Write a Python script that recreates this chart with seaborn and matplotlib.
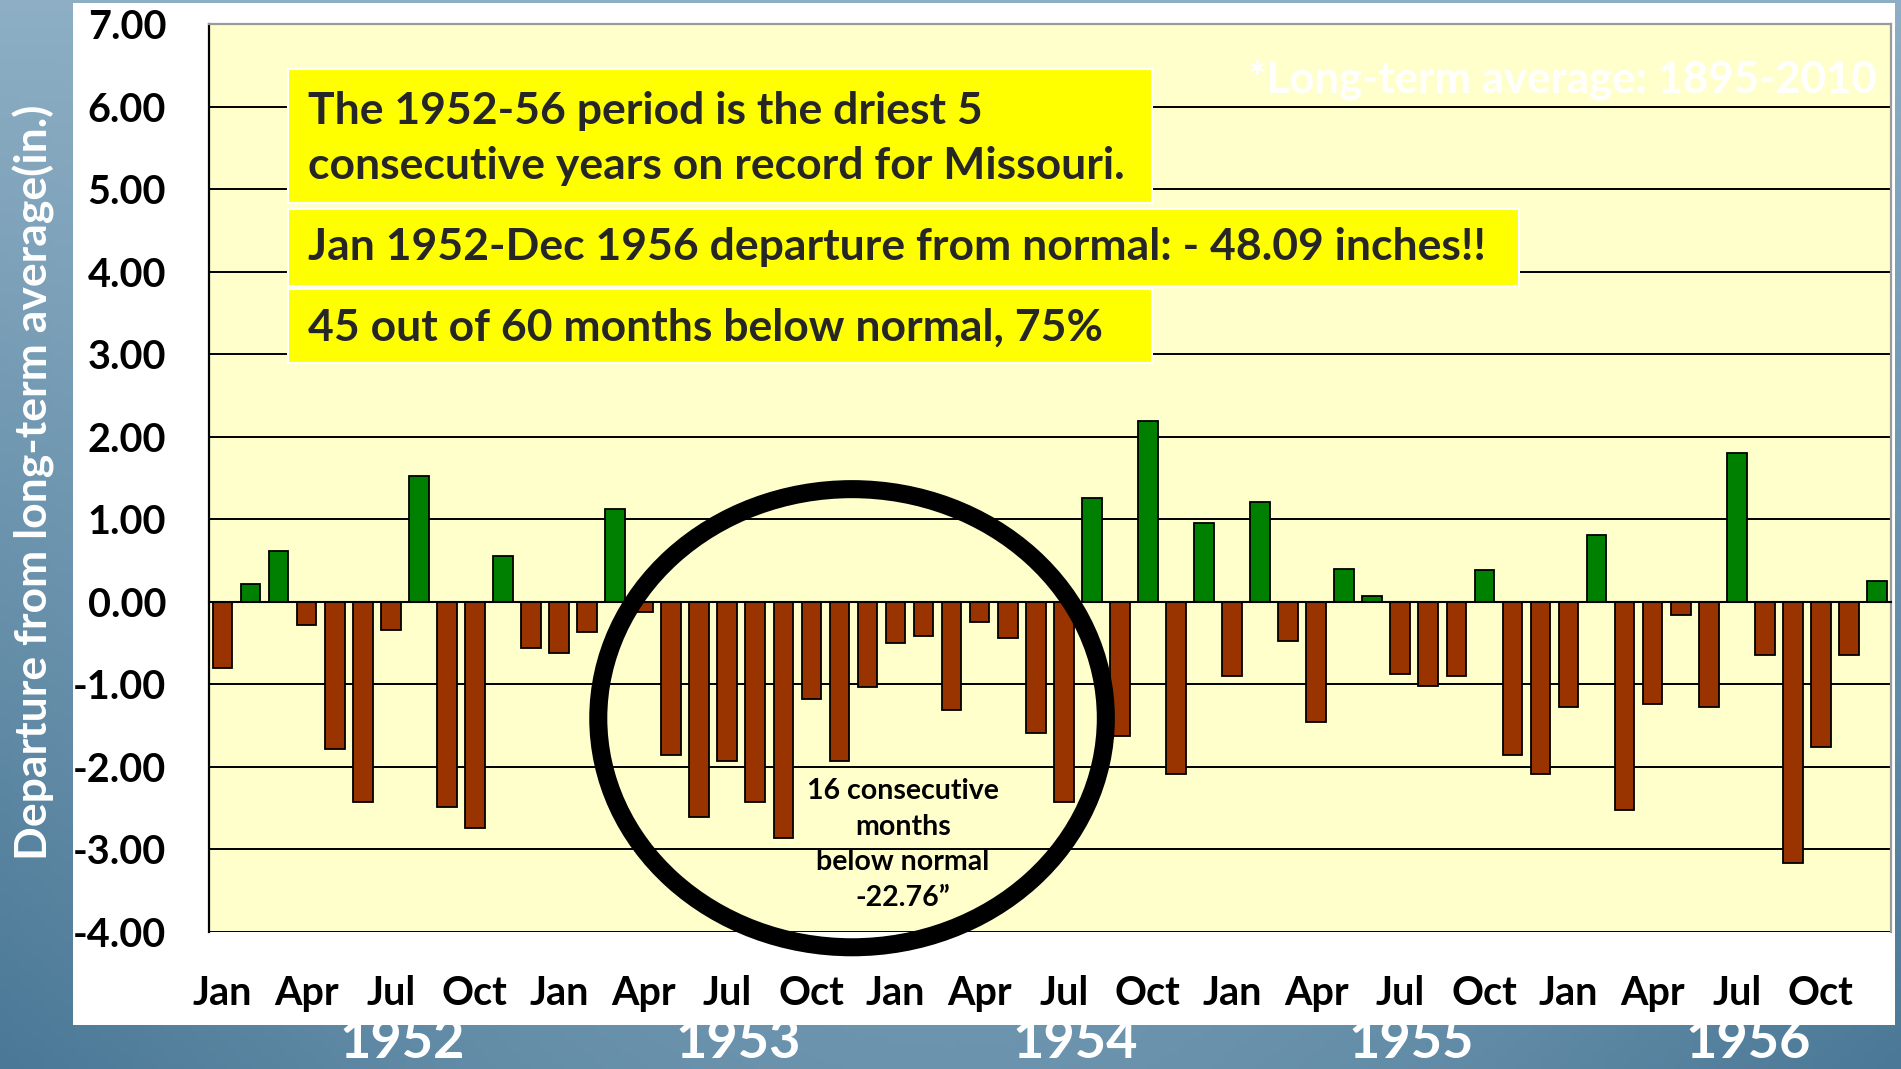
import numpy as np
import pandas as pd
import matplotlib
matplotlib.use("Agg")
import matplotlib.pyplot as plt
from matplotlib.patches import Ellipse, Rectangle
import matplotlib.transforms as mtransforms
import seaborn as sns

# monthly precipitation departure from long-term average (in.), Missouri
YEARS        = ["1952", "1953", "1954", "1955", "1956"]
MONTH_LABELS = ["Jan", "Apr", "Jul", "Oct"]
dep_1952 = [-0.80, 0.21, 0.61, -0.28, -1.78, -2.43, -0.34, 1.53, -2.49, -2.74, 0.56, -0.56]
dep_1953 = [-0.62, -0.37, 1.13, -0.12, -1.86, -2.61, -1.93, -2.42, -2.86, -1.18, -1.93, -1.03]
dep_1954 = [-0.50, -0.41, -1.31, -0.25, -0.44, -1.59, -2.42, 1.26, -1.62, 2.19, -2.08, 0.96]
dep_1955 = [-0.90, 1.21, -0.47, -1.46, 0.40, 0.07, -0.87, -1.02, -0.90, 0.38, -1.86, -2.08]
dep_1956 = [-1.27, 0.81, -2.52, -1.24, -0.16, -1.27, 1.80, -0.65, -3.17, -1.76, -0.65, 0.25]
Y_TICKS  = [-4, -3, -2, -1, 0, 1, 2, 3, 4, 5, 6, 7]

NOTE_1 = "The 1952-56 period is the driest 5\nconsecutive years on record for Missouri."
NOTE_2 = "Jan 1952-Dec 1956 departure from normal: - 48.09 inches!!"
NOTE_3 = "45 out of 60 months below normal, 75%"
RUN_NOTE = "16 consecutive\nmonths\nbelow normal\n-22.76\u201d"
AVG_NOTE = "*Long-term average: 1895-2010"

W, H = 1901, 1069
GREEN, BROWN, PANEL = "#008000", "#993300", "#FFFFCC"

values = dep_1952 + dep_1953 + dep_1954 + dep_1955 + dep_1956
df = pd.DataFrame({"idx": np.arange(len(values)), "dep": values})
df["sign"] = np.where(df["dep"] >= 0, "above", "below")

sns.set_style("white")
plt.rcParams["font.family"] = ["Lato", "DejaVu Sans"]
plt.rcParams["font.weight"] = "bold"

fig = plt.figure(figsize=(W / 100, H / 100), dpi=100)

# blue slide background
bg = fig.add_axes([0, 0, 1, 1], zorder=-10)
yy, xx = np.mgrid[0:1:200j, 0:1:300j]
t = 0.9 * (1 - yy) + 0.45 * np.sin(np.pi * xx) * yy
dark, light = np.array([0x4a, 0x78, 0x96]) / 255, np.array([0x95, 0xb5, 0xca]) / 255
grad = dark[None, None, :] + (light - dark)[None, None, :] * np.clip(t, 0, 1)[..., None]
bg.imshow(grad, aspect="auto", extent=[0, 1, 0, 1])
bg.axis("off")
fig.add_artist(Rectangle((73 / W, 1 - 1025 / H), (1895 - 73) / W, (1025 - 3) / H,
                         transform=fig.transFigure, facecolor="white", edgecolor="none", zorder=-5))

ax = fig.add_axes([208.5 / W, 1 - 932 / H, (1891 - 208.5) / W, (932 - 24) / H])
ax.set_facecolor(PANEL)
sns.barplot(data=df, x="idx", y="dep", hue="sign", palette={"above": GREEN, "below": BROWN},
            dodge=False, width=0.7, saturation=1, edgecolor="black", linewidth=1.3,
            legend=False, ax=ax)

ax.set_xlim(-0.5, len(values) - 0.5)
ax.set_ylim(Y_TICKS[0], Y_TICKS[-1])
ax.set_yticks(Y_TICKS)
ax.set_yticklabels([f"{v:.2f}" for v in Y_TICKS])
ax.set_axisbelow(True)
ax.yaxis.grid(True, color="black", lw=1.4)
ax.set_xlabel(""); ax.set_ylabel("")

ax.spines["bottom"].set_position(("data", 0))
ax.spines["bottom"].set_color("black"); ax.spines["bottom"].set_linewidth(1.5)
ax.spines["left"].set_color("black"); ax.spines["left"].set_linewidth(1.6)
for s in ("top", "right"):
    ax.spines[s].set_visible(True)
    ax.spines[s].set_color("#9a9a9a"); ax.spines[s].set_linewidth(1.6)
ax.set_xticks(np.arange(0.5, len(values) - 0.5, 1))
ax.tick_params(axis="x", direction="inout", length=19, width=1.1, color="black", labelbottom=False)
ax.tick_params(axis="y", direction="out", length=9.5, width=1.4, color="black", pad=21,
               labelsize=28.5, labelcolor="black")
for lab in ax.get_yticklabels():
    lab.set_fontweight("bold")

# month labels under the plot
trans = mtransforms.blended_transform_factory(ax.transData, ax.transAxes)
for i in range(0, len(values), 3):
    ax.text(i, -0.068, MONTH_LABELS[(i // 3) % 4], transform=trans, ha="center", va="center",
            fontsize=28.5, fontweight="bold", color="black", clip_on=False)

# year labels on the blue strip, tucked just under the white panel
for k, yr in enumerate(YEARS):
    xd = 12 * k + 6.4
    xf = fig.transFigure.inverted().transform(ax.transData.transform((xd, 0)))[0]
    fig.text(xf, 1 - 1067 / H, yr, ha="center", va="bottom", fontsize=39, fontweight="bold",
             color="white", zorder=-6)

fig.text(34 / W, 1 - 398 * 1.2124 / H, "Departure from long-term average(in.)", rotation=90,
         ha="center", va="center", fontsize=32, fontweight="bold", color="white")

# yellow note boxes
for (x0, y0, x1, y1) in [(288, 69, 1152, 203), (288, 209, 1519, 286), (288, 289, 1152, 363)]:
    fig.add_artist(Rectangle((x0 / W, 1 - y1 / H), (x1 - x0) / W, (y1 - y0) / H, transform=fig.transFigure,
                             facecolor="#FFFF00", edgecolor="white", lw=1.5, zorder=2))
fig.text(308 / W, 1 - 179 / H, NOTE_1, ha="left", va="baseline", fontsize=32, fontweight="bold",
         linespacing=1.45, zorder=3)
fig.text(308 / W, 1 - 260 / H, NOTE_2, ha="left", va="baseline", fontsize=32, fontweight="bold", zorder=3)
fig.text(308 / W, 1 - 341 / H, NOTE_3, ha="left", va="baseline", fontsize=32, fontweight="bold", zorder=3)

fig.text(1877 / W, 1 - 80 / H, AVG_NOTE, ha="right", va="center", fontsize=31.5, fontweight="bold",
         color="white", zorder=3)

# circled 16-month dry run
ax.add_patch(Ellipse((22.45, -1.41), 18.1, 5.55, fill=False, edgecolor="black", lw=13,
                     clip_on=False, zorder=5))
ax.text(24.27, -2.94, RUN_NOTE, ha="center", va="center", multialignment="center",
        fontsize=20.5, fontweight="bold", color="black", linespacing=1.46, zorder=6)

fig.savefig("out.png", dpi=100)
